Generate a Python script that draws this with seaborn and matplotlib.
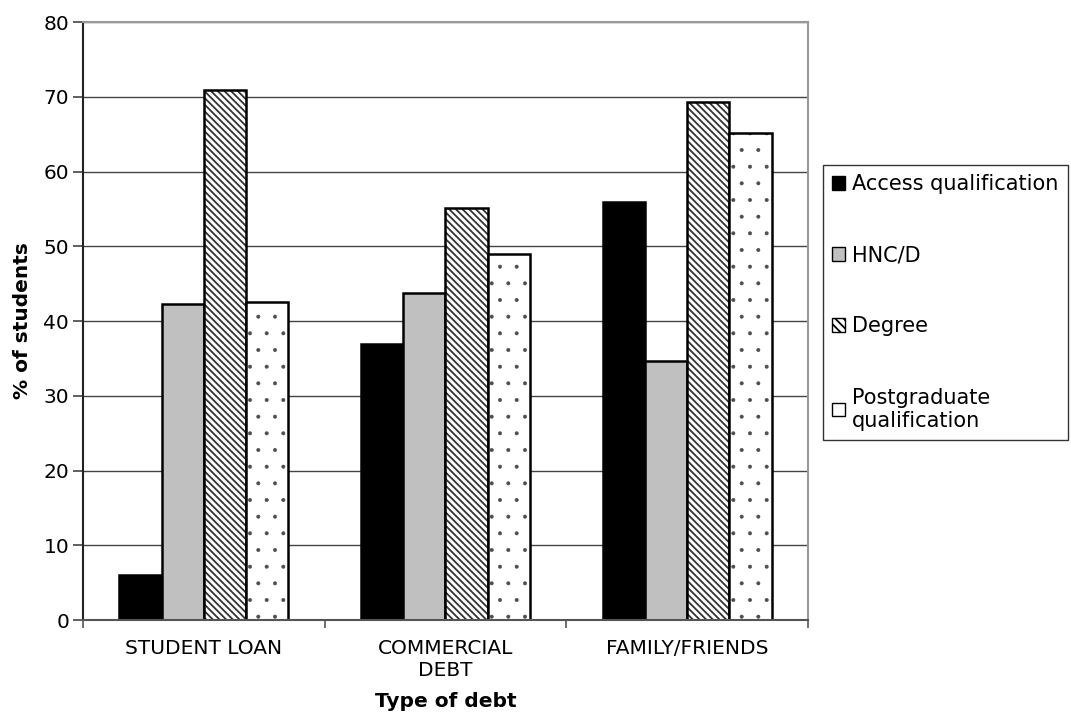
import matplotlib
matplotlib.use("Agg")
import matplotlib.pyplot as plt
import matplotlib.patches as mpatches
import seaborn as sns
import pandas as pd

categories = ["STUDENT LOAN", "COMMERCIAL\nDEBT", "FAMILY/FRIENDS"]
series = ["Access qualification", "HNC/D", "Degree", "Postgraduate\nqualification"]
access = [6.0, 36.9, 55.9]
hncd = [42.3, 43.7, 34.6]
degree = [70.9, 55.1, 69.3]
postgrad = [42.5, 49.0, 65.1]

fills = ["#000000", "#c0c0c0", "#ffffff", "#ffffff"]
hatches = ["", "", "\\\\\\\\\\", "."]

rows = []
for name, vals in zip(series, [access, hncd, degree, postgrad]):
    for cat, v in zip(categories, vals):
        rows.append({"cat": cat, "series": name, "value": v})
df = pd.DataFrame(rows)

sns.set_style("white")
plt.rcParams["font.family"] = ["DejaVu Sans"]
plt.rcParams["text.color"] = "black"
plt.rcParams["axes.labelcolor"] = "black"
plt.rcParams["xtick.color"] = "black"
plt.rcParams["ytick.color"] = "black"
plt.rcParams["hatch.linewidth"] = 1.3

fig = plt.figure(figsize=(10.71, 7.24), dpi=100)
ax = fig.add_axes([83 / 1071, 1 - 620 / 724, (808 - 83) / 1071, (620 - 22) / 724])

sns.barplot(data=df, x="cat", y="value", hue="series", order=categories,
            hue_order=series, palette=fills, width=0.7, gap=0,
            edgecolor="black", linewidth=1.8, saturation=1, ax=ax, legend=False)

for container, h in zip(ax.containers, hatches):
    for bar in container:
        bar.set_hatch(h)
        if h.startswith("\\"):
            bar._hatch_color = (0.2, 0.2, 0.2, 1)
        elif h == ".":
            bar._hatch_color = (0.3, 0.3, 0.3, 1)
            if hasattr(bar, "set_hatch_linewidth"):
                bar.set_hatch_linewidth(0.4)

ax.set_ylim(0, 80)
ax.set_xlim(-0.5, 2.5)
ax.set_yticks(range(0, 81, 10))
ax.yaxis.grid(True, color="#444444", linewidth=1.0)
ax.set_axisbelow(True)
for s in ["top", "right"]:
    ax.spines[s].set_color("#999999")
    ax.spines[s].set_linewidth(1.5)
ax.spines["left"].set_color("#222222")
ax.spines["bottom"].set_color("#555555")
ax.spines["left"].set_linewidth(1.5)
ax.spines["bottom"].set_linewidth(1.5)

ax.tick_params(axis="y", direction="out", length=7, width=1.2, color="#444444",
               labelsize=14.5, left=True, pad=3)
ax.tick_params(axis="x", length=0, labelsize=14.5, pad=14)
ax.set_xticks([-0.5, 0.5, 1.5, 2.5], minor=True)
ax.tick_params(axis="x", which="minor", direction="out", length=6, width=1.2,
               color="#555555", bottom=True)

ax.set_ylabel("% of students", fontsize=14.5, fontweight="bold", labelpad=8)
ax.set_xlabel("Type of debt", fontsize=14.5, fontweight="bold", labelpad=8)

handles = [mpatches.Patch(facecolor=f, edgecolor="black", hatch=h, linewidth=1)
           for f, h in zip(fills, ["", "", "\\\\\\\\", ""])]
leg = fig.legend(handles, series, loc="upper left",
                 bbox_to_anchor=(823 / 1071, 1 - 165 / 724),
                 fontsize=15, frameon=True, fancybox=False, edgecolor="black",
                 handlelength=0.6, handleheight=0.6, handletextpad=0.35,
                 labelspacing=2.45, borderpad=0.45, borderaxespad=0)
leg.get_frame().set_linewidth(1)

fig.savefig("out.png", dpi=100)
